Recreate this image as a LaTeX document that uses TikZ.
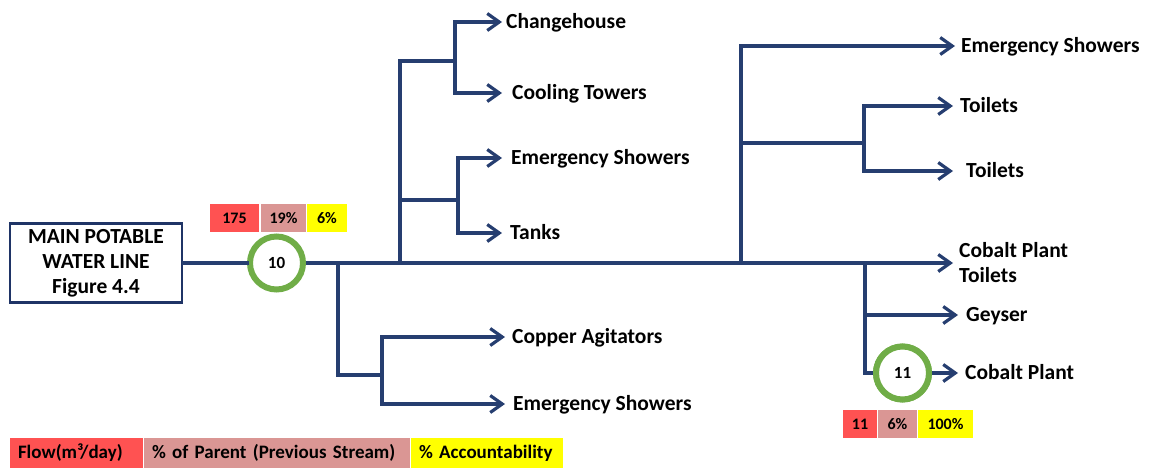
\documentclass[tikz,border=0pt]{standalone}
\usepackage{fontspec}
\setmainfont{Carlito}
\usetikzlibrary{arrows.meta}
\definecolor{pipeblue}{RGB}{38,62,112}
\definecolor{boxnavy}{RGB}{31,52,102}
\definecolor{valvegreen}{RGB}{112,173,71}
\definecolor{flowred}{RGB}{255,82,82}
\definecolor{parentpink}{RGB}{218,150,148}
\definecolor{acctyellow}{RGB}{255,255,0}
\newcommand{\destfont}{\bfseries\fontsize{21.5}{25}\selectfont}
\newcommand{\tagfont}{\bfseries\fontsize{16}{18}\selectfont}
\newcommand{\valvefont}{\bfseries\fontsize{17}{19}\selectfont}
\newcommand{\keyfont}{\bfseries\fontsize{19}{21}\selectfont}
\begin{document}
\begin{tikzpicture}[x=1pt,y=-1pt,
  pipe/.style={draw=pipeblue, line width=3.2pt, line cap=rect},
  flow/.style={draw=pipeblue, line width=3.2pt, -{Straight Barb[length=12pt,width=17pt]}},
  dest/.style={anchor=west, font=\destfont, inner ysep=0pt, text height=13.8pt, text depth=0pt},
  valve/.style={circle, draw=valvegreen, line width=6pt, minimum size=53pt, inner sep=0pt, fill=white, font=\valvefont},
  tag/.style={minimum height=28pt, inner sep=0pt, font=\tagfont},
  keybox/.style={minimum height=30pt, inner ysep=0pt, inner xsep=8pt, align=left, font=\keyfont}]
\useasboundingbox (0,0) rectangle (1149,469);

% source and first meter
\node[draw=boxnavy, line width=2.8pt, minimum width=172pt, minimum height=79pt,
      align=center, font=\destfont, inner sep=0pt] (main) at (96,263)
      {MAIN POTABLE\\WATER LINE\\Figure 4.4};
\node[valve] (c10) at (276.5,263) {10};
\node[tag, fill=flowred, minimum width=49pt] (t10a) at (234.5,218) {175};
\node[tag, fill=parentpink, minimum width=45pt] (t10b) at (283.5,218) {19\%};
\node[tag, fill=acctyellow, minimum width=40pt] (t10c) at (327,218) {6\%};

% end users
\node[dest, inner xsep=4pt]  (change) at (502,22)  {Changehouse};
\node[dest, inner xsep=10pt] (cool)   at (502,93)  {Cooling Towers};
\node[dest, inner xsep=9pt]  (emergA) at (502,158) {Emergency Showers};
\node[dest, inner xsep=8pt]  (tanks)  at (502,233) {Tanks};
\node[dest, inner xsep=7pt]  (copper) at (505,337) {Copper Agitators};
\node[dest, inner xsep=8pt]  (emergC) at (505,404) {Emergency Showers};
\node[dest, inner xsep=6pt]  (emergB) at (955,46)  {Emergency Showers};
\node[dest, inner xsep=7pt]  (toilA)  at (953,106) {Toilets};
\node[dest, inner xsep=13pt] (toilB)  at (953,171) {Toilets};
\node[anchor=west, font=\destfont, align=left, inner xsep=6pt, inner ysep=0pt] (cpt) at (953,263)
      {Cobalt Plant\\Toilets};
\node[dest, inner xsep=8pt]  (geyser) at (958,315) {Geyser};
\node[dest, inner xsep=7pt]  (cobalt) at (958,373) {Cobalt Plant};

% second meter
\node[valve] (c11) at (902.5,373) {11};
\node[tag, fill=flowred, minimum width=34pt] (t11a) at (860,424) {11};
\node[tag, fill=parentpink, minimum width=39pt] (t11b) at (897.5,424) {6\%};
\node[tag, fill=acctyellow, minimum width=55pt] (t11c) at (945.5,424) {100\%};

% junctions
\coordinate (j1) at (338,263);
\coordinate (j2) at (400,263);
\coordinate (j3) at (741,263);
\coordinate (j4) at (865,263);
\coordinate (jb) at (382,375);
\coordinate (ja) at (400,61);
\coordinate (jc) at (455,61);
\coordinate (jd) at (400,200);
\coordinate (je) at (458,200);
\coordinate (jf) at (741,143);
\coordinate (jg) at (864,143);
\coordinate (jh) at (865,315);

% main line
\draw[pipe] (main.east) -- (c10.west);
\draw[flow] (c10.east) -- (cpt.west);

% lower left branch
\draw[pipe] (j1) |- (jb);
\draw[flow] (jb) |- (copper.west);
\draw[flow] (jb) |- (emergC.west);

% upper left branch
\draw[pipe] (j2) -- (ja) -- (jc);
\draw[flow] (jc) |- (change.west);
\draw[flow] (jc) |- (cool.west);
\draw[pipe] (jd) -- (je);
\draw[flow] (je) |- (emergA.west);
\draw[flow] (je) |- (tanks.west);

% upper right branch
\draw[flow] (j3) |- (emergB.west);
\draw[pipe] (jf) -- (jg);
\draw[flow] (jg) |- (toilA.west);
\draw[flow] (jg) |- (toilB.west);

% lower right branch
\draw[pipe] (j4) |- (c11.west);
\draw[flow] (jh) -- (geyser.west);
\draw[flow] (c11.east) -- (cobalt.west);
\node[valve] at (c11) {11};

% key
\node[keybox, fill=flowred, text width=117pt] (k1) at (76.5,453) {Flow(m³/day)};
\node[keybox, fill=parentpink, text width=250pt] (k2) at (277,453) {\% of Parent (Previous Stream)};
\node[keybox, fill=acctyellow, text width=136pt] (k3) at (487,453) {\% Accountability};
\end{tikzpicture}
\end{document}
